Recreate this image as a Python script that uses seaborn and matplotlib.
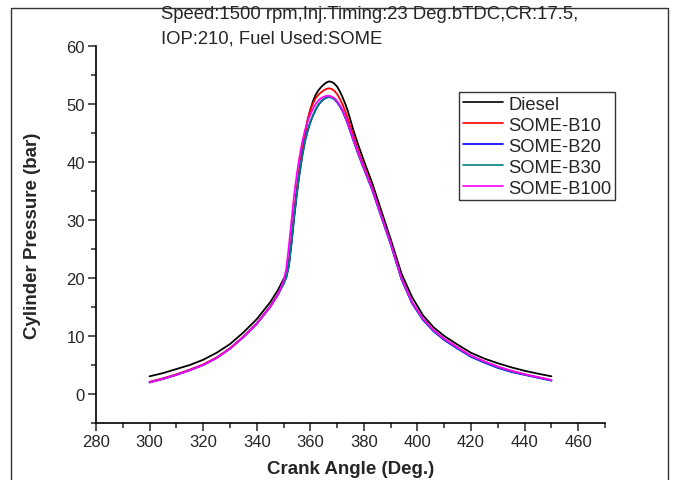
import matplotlib
matplotlib.use("Agg")
import matplotlib.pyplot as plt
import seaborn as sns
import pandas as pd
from matplotlib.patches import Rectangle

crank_angle = [300, 305, 310, 315, 320, 325, 330, 335, 340, 345, 348, 350, 351, 352, 353, 354,
               355, 356, 357, 358, 359, 360, 361, 362, 363, 364, 365, 366, 367, 368, 369, 370,
               371, 372, 373, 374, 376, 378, 380, 383, 386, 390, 394, 398, 402, 406, 410, 415,
               420, 425, 430, 435, 440, 445, 450]

diesel = [3.05, 3.6, 4.3, 5.0, 5.9, 7.1, 8.6, 10.6, 12.9, 15.8, 18.0, 19.8, 20.6, 22.5, 26.5, 31.0,
          35.2, 38.8, 42.0, 44.8, 47.2, 49.0, 50.5, 51.6, 52.35, 52.9, 53.35, 53.7, 53.9, 53.8, 53.5, 53.0,
          52.2, 51.2, 50.1, 48.8, 45.6, 42.8, 40.2, 36.5, 32.3, 26.7, 20.8, 16.7, 13.6, 11.5, 10.0, 8.5,
          7.1, 6.1, 5.3, 4.6, 4.0, 3.5, 3.05]

some_b10 = [2.1, 2.7, 3.4, 4.2, 5.1, 6.3, 7.9, 9.9, 12.2, 15.1, 17.3, 19.1, 20.4, 22.8, 27.0, 31.5,
            35.5, 39.0, 42.0, 44.8, 47.3, 49.0, 50.1, 51.0, 51.6, 52.0, 52.35, 52.6, 52.7, 52.6, 52.25, 51.7,
            50.9, 50.0, 48.8, 47.5, 44.6, 41.8, 39.3, 35.7, 31.5, 26.0, 20.0, 15.8, 13.0, 11.0, 9.5, 8.0,
            6.6, 5.6, 4.7, 4.0, 3.4, 2.9, 2.4]

some_b20 = [2.0, 2.6, 3.3, 4.1, 5.0, 6.2, 7.8, 9.8, 12.1, 15.0, 17.2, 19.0, 20.0, 22.0, 26.0, 30.5,
            34.5, 38.0, 41.0, 43.5, 45.3, 46.8, 48.0, 49.0, 49.8, 50.4, 50.8, 51.1, 51.2, 51.1, 50.8, 50.3,
            49.6, 48.8, 47.7, 46.5, 43.8, 41.2, 38.8, 35.3, 31.2, 25.8, 19.8, 15.6, 12.8, 10.8, 9.3, 7.8,
            6.4, 5.4, 4.5, 3.8, 3.3, 2.8, 2.3]

some_b30 = [2.0, 2.6, 3.3, 4.1, 5.0, 6.2, 7.8, 9.8, 12.1, 15.0, 17.2, 19.0, 20.1, 22.3, 26.4, 30.9,
            34.8, 38.2, 41.2, 43.7, 45.5, 47.0, 48.1, 49.1, 49.9, 50.5, 50.85, 51.1, 51.2, 51.1, 50.85, 50.4,
            49.7, 48.9, 47.8, 46.6, 43.9, 41.3, 38.9, 35.4, 31.3, 25.9, 19.9, 15.7, 12.9, 10.9, 9.4, 7.9,
            6.5, 5.5, 4.6, 3.9, 3.35, 2.85, 2.35]

some_b100 = [2.0, 2.6, 3.3, 4.1, 5.0, 6.2, 7.8, 9.8, 12.1, 15.0, 17.2, 19.5, 21.5, 25.5, 30.0, 34.5,
             38.0, 41.0, 43.5, 45.5, 47.0, 48.2, 49.2, 50.0, 50.6, 51.0, 51.25, 51.4, 51.4, 51.3, 51.0, 50.5,
             49.8, 49.0, 47.9, 46.7, 44.0, 41.4, 39.0, 35.5, 31.4, 26.0, 20.0, 15.8, 13.0, 11.0, 9.5, 8.0,
             6.6, 5.6, 4.7, 4.0, 3.4, 2.9, 2.4]

series_names = ["Diesel", "SOME-B10", "SOME-B20", "SOME-B30", "SOME-B100"]
series_values = [diesel, some_b10, some_b20, some_b30, some_b100]
series_colors = ["#000000", "#ff0000", "#0000ff", "#008080", "#ff00ff"]

x_ticks = [280, 300, 320, 340, 360, 380, 400, 420, 440, 460]
y_ticks = [0, 10, 20, 30, 40, 50, 60]

title_text = "Speed:1500 rpm,Inj.Timing:23 Deg.bTDC,CR:17.5,\nIOP:210, Fuel Used:SOME"

rows = []
for name, vals in zip(series_names, series_values):
    for a, v in zip(crank_angle, vals):
        rows.append({"Crank Angle": a, "Pressure": v, "Fuel": name})
df = pd.DataFrame(rows)

sns.set_style("ticks")
plt.rcParams['font.family'] = ['Liberation Sans', 'DejaVu Sans']

fig = plt.figure(figsize=(6.73, 4.81), dpi=100)
ax = fig.add_axes([96 / 673, 1 - 424 / 481, (605 - 96) / 673, (424 - 47) / 481])

sns.lineplot(data=df, x="Crank Angle", y="Pressure", hue="Fuel", hue_order=series_names,
             palette=series_colors, linewidth=1.3, ax=ax, legend=True, sort=False)

ax.set_xlim(280, 470)
ax.set_ylim(-5, 60)
ax.set_xticks(x_ticks)
ax.set_yticks(y_ticks)
ax.set_xticks(range(290, 471, 20), minor=True)
ax.set_yticks(range(-5, 60, 10), minor=True)
ax.tick_params(axis='both', which='major', direction='out', length=6, width=1.1, labelsize=12, pad=2)
ax.tick_params(axis='both', which='minor', direction='out', length=3.5, width=1.1)
for s in ['top', 'right']:
    ax.spines[s].set_visible(False)
for s in ['left', 'bottom']:
    ax.spines[s].set_linewidth(1.2)
    ax.spines[s].set_color('black')

ax.set_xlabel("Crank Angle (Deg.)", fontsize=13.5, fontweight='bold', labelpad=8)
ax.set_ylabel("Cylinder Pressure (bar)", fontsize=13.5, fontweight='bold', labelpad=18)

leg = ax.legend(loc='upper left', bbox_to_anchor=(0.713, 0.878), fontsize=13.2, frameon=True,
                fancybox=False, edgecolor='black', handlelength=2.2, handletextpad=0.3,
                labelspacing=0.22, borderpad=0.2, borderaxespad=0)
leg.get_frame().set_linewidth(1.0)
for line in leg.get_lines():
    line.set_linewidth(1.2)

fig.text(161 / 673, 1 - 6 / 481, title_text, ha='left', va='top', fontsize=13.3, linespacing=1.55)

fig.patches.append(Rectangle((11 / 673, -0.05), (668 - 11) / 673, 1.05 - 9 / 481,
                             transform=fig.transFigure, fill=False, edgecolor='#333333',
                             linewidth=1.0, figure=fig))

fig.savefig("out.png", dpi=100)
